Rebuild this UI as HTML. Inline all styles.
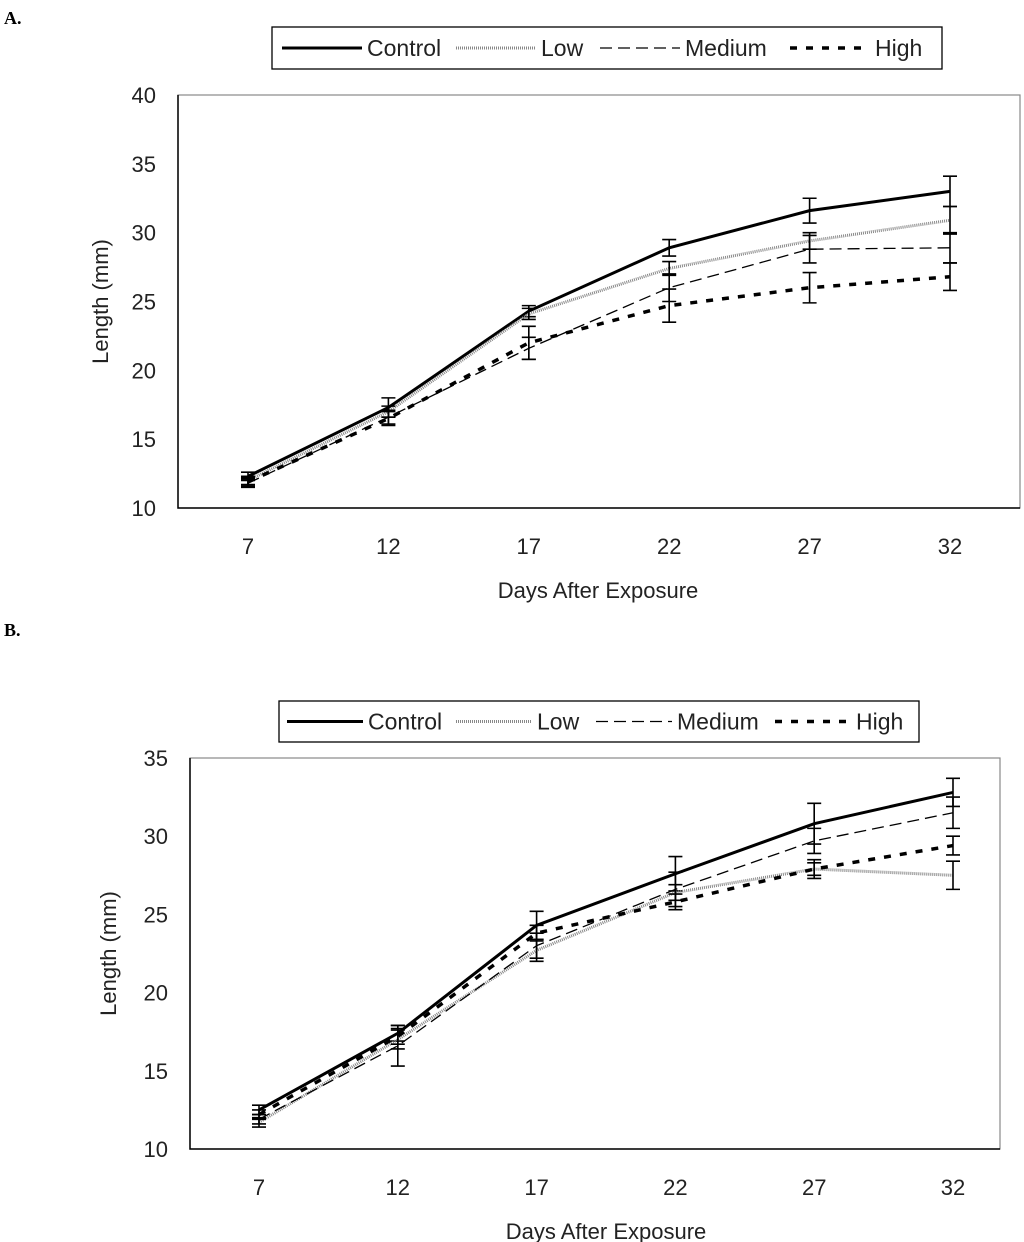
<!DOCTYPE html>
<html><head><meta charset="utf-8"><style>
body{margin:0;background:#fff;width:1024px;height:1242px;overflow:hidden}
svg{display:block}
text{font-family:"Liberation Sans",Arial,sans-serif;fill:#222}
.lab{font-family:"Liberation Serif",serif;font-weight:bold;font-size:18px;fill:#000}
</style></head><body>
<svg id="s" width="1024" height="1242" xmlns="http://www.w3.org/2000/svg"></svg>
<script>
const days=[7,12,17,22,27,32];
const ticksA=[10,15,20,25,30,35,40];
const ticksB=[10,15,20,25,30,35];
const seriesNames=["Control","Low","Medium","High"];
const aControl=[12.3,17.3,24.3,28.9,31.6,33.0];
const aLow=[12.0,17.0,24.1,27.4,29.4,30.9];
const aMedium=[11.8,16.6,21.6,26.0,28.8,28.9];
const aHigh=[11.9,16.5,22.0,24.7,26.0,26.8];
const aErrControl=[0.3,0.7,0.4,0.6,0.9,1.1];
const aErrLow=[0.3,0.4,0.4,0.5,0.6,1.0];
const aErrMedium=[0.3,0.5,0.8,1.0,1.0,1.1];
const aErrHigh=[0.3,0.5,1.2,1.2,1.1,1.0];
const bControl=[12.5,17.4,24.3,27.6,30.8,32.8];
const bLow=[11.7,17.0,22.7,26.4,27.9,27.5];
const bMedium=[11.9,16.6,23.0,26.6,29.7,31.5];
const bHigh=[12.2,17.2,23.8,25.8,27.9,29.4];
const bErrControl=[0.3,0.5,0.9,1.1,1.3,0.9];
const bErrLow=[0.3,0.6,0.7,0.5,0.4,0.9];
const bErrMedium=[0.3,1.3,0.8,1.1,0.8,1.0];
const bErrHigh=[0.3,0.5,0.5,0.5,0.6,0.6];

const NS="http://www.w3.org/2000/svg";
const svg=document.getElementById('s');
function el(t,a,p){const e=document.createElementNS(NS,t);for(const k in a)e.setAttribute(k,a[k]);(p||svg).appendChild(e);return e;}
const styles=[
 {stroke:"#000","stroke-width":3},
 {stroke:"#888","stroke-width":3,"stroke-dasharray":"1 1"},
 {stroke:"#000","stroke-width":1.3,"stroke-dasharray":"12 6"},
 {stroke:"#000","stroke-width":3.5,"stroke-dasharray":"7 9"}];

function chart(cfg){
 const g=el('g',{});
 
 
 const X=d=>cfg.x0+(d-7)/(32-7)*(cfg.x1-cfg.x0);
 const Y=v=>cfg.yb-(v-cfg.ticks[0])/(cfg.ticks[cfg.ticks.length-1]-cfg.ticks[0])*(cfg.yb-cfg.yt);
 const fr=el('rect',{x:cfg.ax,y:cfg.yt,width:cfg.right-cfg.ax,height:cfg.yb-cfg.yt,fill:"none",stroke:"#888","stroke-width":1.2},g);
 
 const ax=el('path',{d:`M${cfg.ax},${cfg.yt}V${cfg.yb}H${cfg.right}`,fill:"none",stroke:"#000","stroke-width":1.5},g);
 
 cfg.ticks.forEach(t=>{const tx=el('text',{x:cfg.ax-22,y:Y(t)+8,"font-size":22,"text-anchor":"end"},g);tx.textContent=t;
  });
 days.forEach(d=>{const tx=el('text',{x:X(d),y:cfg.yb+46,"font-size":22,"text-anchor":"middle"},g);tx.textContent=d;
  });
 const xt=el('text',{x:cfg.xtX,y:cfg.yb+90,"font-size":22,"text-anchor":"middle"},g);xt.textContent="Days After Exposure";
 
 const ytY=(cfg.yt+cfg.yb)/2;
 const yt=el('text',{x:cfg.ytX,y:ytY,"font-size":22,"text-anchor":"middle",transform:`rotate(-90 ${cfg.ytX} ${ytY})`},g);yt.textContent="Length (mm)";
 
 cfg.data.forEach((vals,i)=>{
  const pl=el('polyline',Object.assign({points:vals.map((v,j)=>X(days[j])+","+Y(v)).join(" "),fill:"none"},styles[i]),g);
  
  vals.forEach((v,j)=>{const e=cfg.err[i][j],x=X(days[j]);
   const eb=el('path',{d:`M${x},${Y(v-e)}V${Y(v+e)}M${x-7},${Y(v-e)}h14M${x-7},${Y(v+e)}h14`,stroke:"#000","stroke-width":1.6,fill:"none"},g);
   });
 });
 const L=cfg.leg;
 const lg=el('g',{},g);
 el('rect',{x:L.x,y:L.y,width:L.w,height:L.h,fill:"#fff",stroke:"#000","stroke-width":1.3},lg);
 const my=L.y+L.h/2;
 seriesNames.forEach((n,i)=>{
  const cx=L.starts[i];
  const ln=el('line',Object.assign({x1:cx,y1:my,x2:cx+L.sw,y2:my},styles[i]),lg);
  
  const t=el('text',{x:cx+L.sw+5,y:my+8,"font-size":23},lg);t.textContent=n;
  
 });
}
const la=el('text',{x:4,y:24,class:"lab"});la.textContent="A.";
const lb=el('text',{x:4,y:636,class:"lab"});lb.textContent="B.";
chart({name:"chart-a",ax:178,right:1020,x0:248,x1:950,yt:95,yb:508,ticks:ticksA,
 data:[aControl,aLow,aMedium,aHigh],err:[aErrControl,aErrLow,aErrMedium,aErrHigh],
 xtX:598,ytX:108,leg:{x:272,y:27,w:670,h:42,sw:80,starts:[282,456,600,790]}});
chart({name:"chart-b",ax:190,right:1000,x0:259,x1:953,yt:758,yb:1149,ticks:ticksB,
 data:[bControl,bLow,bMedium,bHigh],err:[bErrControl,bErrLow,bErrMedium,bErrHigh],
 xtX:606,ytX:116,leg:{x:279,y:701,w:640,h:41,sw:76,starts:[287,456,596,775]}});
</script>
</body></html>
